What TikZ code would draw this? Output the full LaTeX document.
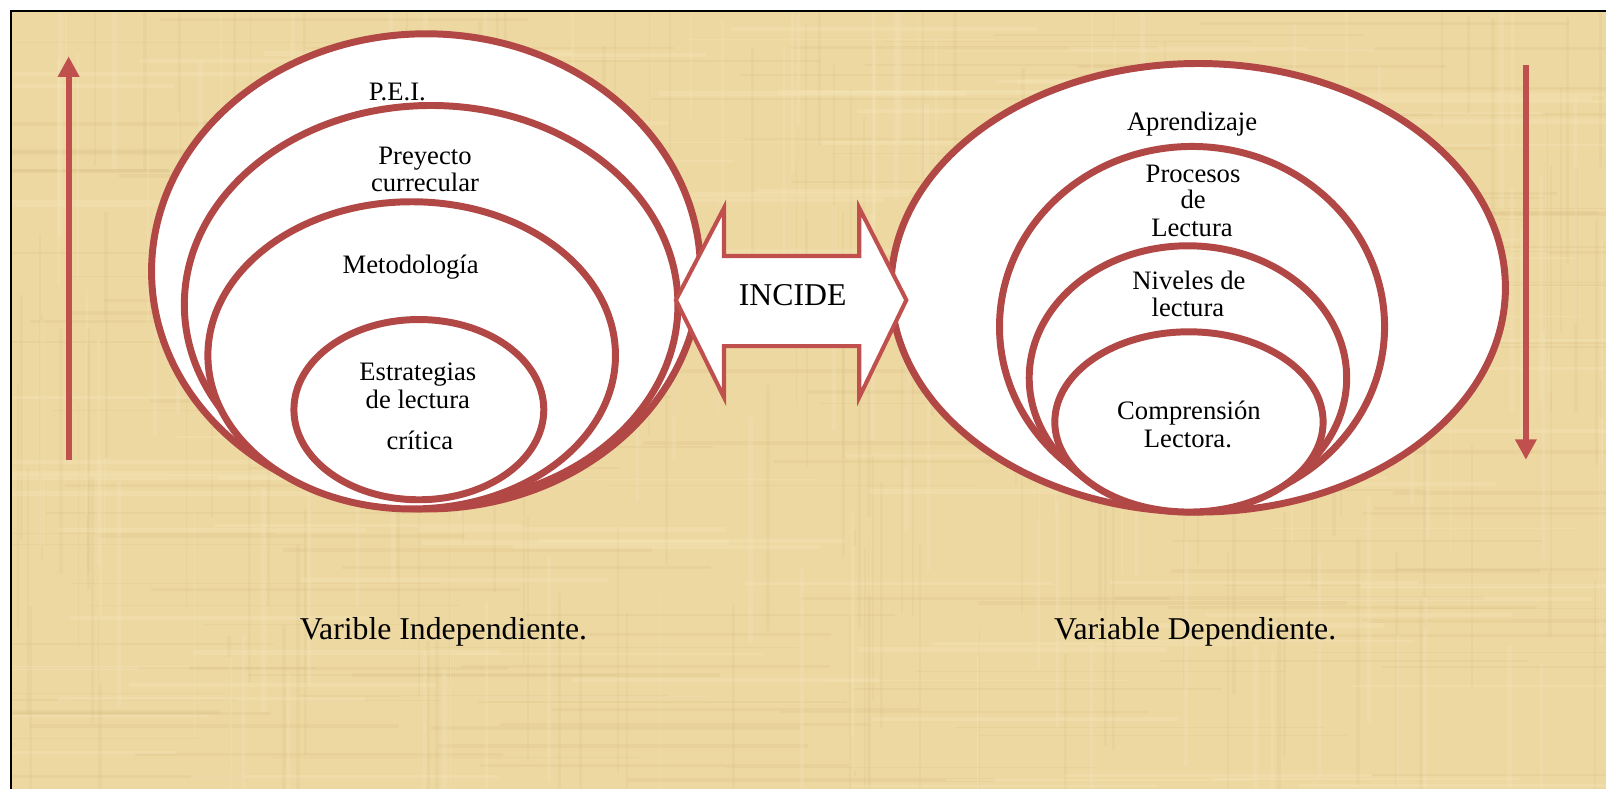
\documentclass[tikz,border=0pt]{standalone}
\usepackage{fontspec}
\setmainfont{Liberation Serif}
\usetikzlibrary{shapes.geometric,arrows.meta}
\definecolor{parch}{RGB}{237,216,162}
\definecolor{parchdark}{RGB}{212,186,122}
\definecolor{parchlight}{RGB}{246,230,188}
\definecolor{ringred}{RGB}{178,72,70}
\definecolor{arw}{RGB}{192,80,77}
\begin{document}
\begin{tikzpicture}[x=0.5pt,y=-0.5pt,
  ringE/.style={ellipse, draw=ringred, line width=3.4pt, fill=white, inner sep=0pt, outer sep=0pt},
  lbl/.style={font=\fontsize{13}{13}\selectfont, anchor=base, inner sep=0pt},
  big/.style={font=\fontsize{15.5}{16}\selectfont, anchor=base, inner sep=0pt},
  vline/.style={draw=arw, line width=3pt, -{Triangle[width=10pt,length=10pt]}},
  twoarrow/.style={draw=arw, line width=2pt, fill=white, line join=miter},
]
% page and background
\fill[white] (0,0) rectangle (1568,770);
\fill[parch] (11,11) rectangle (1568,770);
\begin{scope}
  \clip (11,11) rectangle (1568,770);
  \pgfmathsetseed{12}
  \foreach \i in {1,...,140}{
    \pgfmathsetmacro{\yy}{11+rnd*759}
    \pgfmathsetmacro{\xa}{rnd*1568}
    \pgfmathsetmacro{\ww}{0.4+rnd*1.6}
    \draw[parchdark, opacity=0.18, line width=\ww pt] (\xa-180,\yy) -- (\xa+180,\yy);
  }
  \foreach \i in {1,...,140}{
    \pgfmathsetmacro{\xx}{11+rnd*1557}
    \pgfmathsetmacro{\ya}{rnd*770}
    \pgfmathsetmacro{\ww}{0.4+rnd*1.6}
    \draw[parchdark, opacity=0.15, line width=\ww pt] (\xx,\ya-120) -- (\xx,\ya+120);
  }
  \foreach \i in {1,...,120}{
    \pgfmathsetmacro{\yy}{11+rnd*759}
    \pgfmathsetmacro{\xa}{rnd*1568}
    \pgfmathsetmacro{\ww}{0.5+rnd*2}
    \draw[parchlight, opacity=0.3, line width=\ww pt] (\xa-150,\yy) -- (\xa+150,\yy);
  }
  \foreach \i in {1,...,120}{
    \pgfmathsetmacro{\xx}{11+rnd*1557}
    \pgfmathsetmacro{\ya}{rnd*770}
    \pgfmathsetmacro{\ww}{0.5+rnd*2}
    \draw[parchlight, opacity=0.28, line width=\ww pt] (\xx,\ya-110) -- (\xx,\ya+110);
  }
\end{scope}
\draw[black, line width=1.2pt] (11,770) -- (11,11) -- (1568,11);

% side arrows
\coordinate (la1) at (67,449);
\coordinate (la2) at (67,55);
\coordinate (ra1) at (1490,63);
\coordinate (ra2) at (1490,449);
\draw[vline] (la1) -- (la2);
\draw[vline] (ra1) -- (ra2);

% left group
\node[ringE, minimum width=268pt, minimum height=232pt] (e1) at (416,265) {};
\node[ringE, minimum width=241pt, minimum height=194.5pt] (e2) at (421,297.5) {};
\node[ringE, minimum width=199pt, minimum height=150pt] (e3) at (402,347) {};
\node[ringE, minimum width=122pt, minimum height=88pt] (e4) at (409,400) {};

\node[lbl] (t1) at (388,98) {P.E.I.};
\node[lbl] (t2a) at (415,161) {Preyecto};
\node[lbl] (t2b) at (415,187) {currecular};
\node[lbl] (t3) at (401,267) {Metodología};
\node[lbl] (t4a) at (408,372) {Estrategias};
\node[lbl] (t4b) at (408,399) {de lectura};
\node[lbl] (t4c) at (410,439) {crítica};

% right group
\node[ringE, minimum width=300pt, minimum height=219pt] (r1) at (1170,281) {};
\node[ringE, minimum width=188pt, minimum height=176pt] (r2) at (1164,319) {};
\node[ringE, minimum width=155pt, minimum height=129pt] (r3) at (1160,369) {};
\node[ringE, minimum width=131pt, minimum height=88pt] (r4) at (1161,412) {};

\node[lbl] (s1) at (1164,127) {Aprendizaje};
\node[lbl] (s2a) at (1165,178) {Procesos};
\node[lbl] (s2b) at (1165,204) {de};
\node[lbl] (s2c) at (1164,231) {Lectura};
\node[lbl] (s3a) at (1161,283) {Niveles de};
\node[lbl] (s3b) at (1160,309) {lectura};
\node[lbl] (s4a) at (1161,410) {Comprensión};
\node[lbl] (s4b) at (1160,437) {Lectora.};

% double arrow
\draw[twoarrow] (660,293) -- (707,203) -- (707,250) -- (839,250) -- (839,203)
  -- (885,293) -- (839,388) -- (839,338) -- (707,338) -- (707,388) -- cycle;
\node[big] (incide) at (774,298) {INCIDE};

% bottom labels
\node[big] (vi) at (433,624) {Varible Independiente.};
\node[big] (vd) at (1167,624) {Variable Dependiente.};
\end{tikzpicture}
\end{document}
